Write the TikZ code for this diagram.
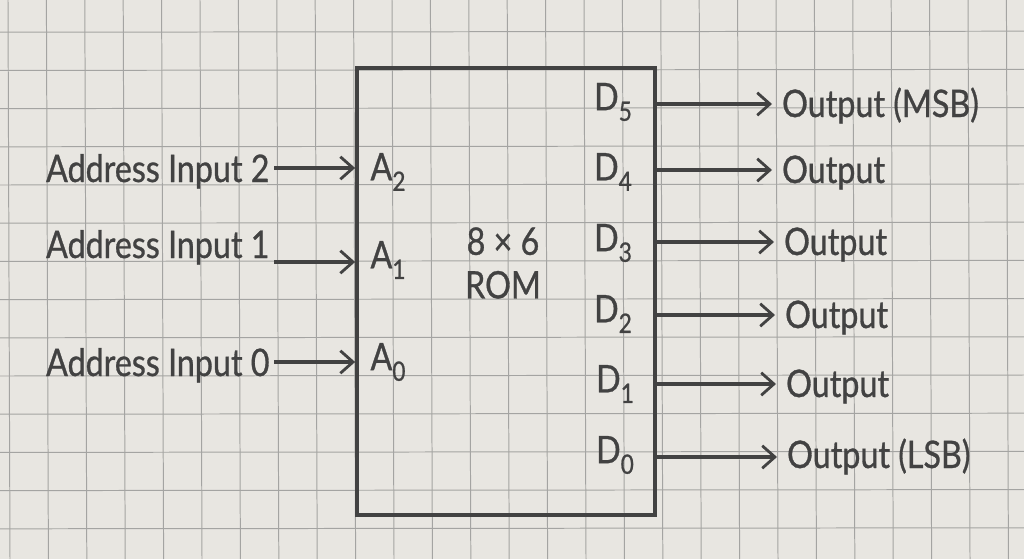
\documentclass[tikz,border=0pt]{standalone}
\usepackage{fontspec}
\setmainfont[FakeStretch=0.85, FakeBold=0.8]{Lato}
\usepackage{xcolor}
\usetikzlibrary{positioning,arrows.meta}

\definecolor{paper}{HTML}{E8E6E1}
\definecolor{gridline}{HTML}{A4A4A2}
\definecolor{pencil}{HTML}{424242}
\newcommand{\pinsub}[1]{\raisebox{-0.55ex}{\fontsize{19}{19}\selectfont #1}}

\begin{document}
\begin{tikzpicture}[
x=0.025cm, y=-0.025cm,
font=\fontsize{27}{31}\selectfont,
every node/.style={text=pencil},
romblock/.style={rectangle, draw=pencil, line width=2.6pt, minimum width=7.45cm, minimum height=11.175cm, align=center},
pinlabel/.style={inner sep=0pt},
inlabel/.style={inner sep=3pt, anchor=base east},
outlabel/.style={inner sep=7pt, anchor=base west},
wire/.style={-{Straight Barb[length=9pt, width=16pt, line width=2pt]}, line width=2.2pt, draw=pencil},
gridrule/.style={draw=gridline, line width=0.7pt}
]

% --- PAPER ---
\useasboundingbox (0,0) rectangle (1024,559);
\fill[paper] (0,0) rectangle (1024,559);
\foreach \i in {0,...,26} \draw[gridrule] (8+38.4*\i,0) -- (10+38.4*\i,559);
\foreach \j in {1,...,14} \draw[gridrule] (0,-6+38.2*\j) -- (1024,-7+38.2*\j);

% --- ROM BLOCK ---
\node[romblock] (rom) at (506,291.5) {};
\node[align=center] (romname) at (503,263) {8 × 6\\ROM};

% --- ADDRESS INPUTS ---
\node[pinlabel] (a2) at (388,172) {A\pinsub{2}};
\node[pinlabel] (a1) at (388,260) {A\pinsub{1}};
\node[pinlabel] (a0) at (388,362) {A\pinsub{0}};

\node[inlabel] (in2) at (274,182) {Address Input 2};
\node[inlabel] (in1) at (274,258) {Address Input 1};
\node[inlabel] (in0) at (274,376) {Address Input 0};

\coordinate (p2) at (rom.west |- 0,168);
\coordinate (p1) at (rom.west |- 0,262);
\coordinate (p0) at (rom.west |- 0,362);

% --- DATA OUTPUTS ---
\node[pinlabel] (d5) at (613,102) {D\pinsub{5}};
\node[pinlabel] (d4) at (613,172) {D\pinsub{4}};
\node[pinlabel] (d3) at (613,243) {D\pinsub{3}};
\node[pinlabel] (d2) at (613,314) {D\pinsub{2}};
\node[pinlabel] (d1) at (615,384) {D\pinsub{1}};
\node[pinlabel] (d0) at (615,455) {D\pinsub{0}};

\node[outlabel] (out5) at (772,117) {Output (MSB)};
\node[outlabel] (out4) at (772,183) {Output};
\node[outlabel] (out3) at (774,255) {Output};
\node[outlabel] (out2) at (775,328) {Output};
\node[outlabel] (out1) at (776,397) {Output};
\node[outlabel] (out0) at (777,468) {Output (LSB)};

\coordinate (q5) at (rom.east |- 0,104);
\coordinate (q4) at (rom.east |- 0,170);
\coordinate (q3) at (rom.east |- 0,242);
\coordinate (q2) at (rom.east |- 0,315);
\coordinate (q1) at (rom.east |- 0,384);
\coordinate (q0) at (rom.east |- 0,457);

% --- FLOWS ---
\draw[wire] (in2.east |- p2) -- (p2);
\draw[wire] (in1.east |- p1) -- (p1);
\draw[wire] (in0.east |- p0) -- (p0);

\draw[wire] (q5) -- (out5.west |- q5);
\draw[wire] (q4) -- (out4.west |- q4);
\draw[wire] (q3) -- (out3.west |- q3);
\draw[wire] (q2) -- (out2.west |- q2);
\draw[wire] (q1) -- (out1.west |- q1);
\draw[wire] (q0) -- (out0.west |- q0);

\end{tikzpicture}
\end{document}
